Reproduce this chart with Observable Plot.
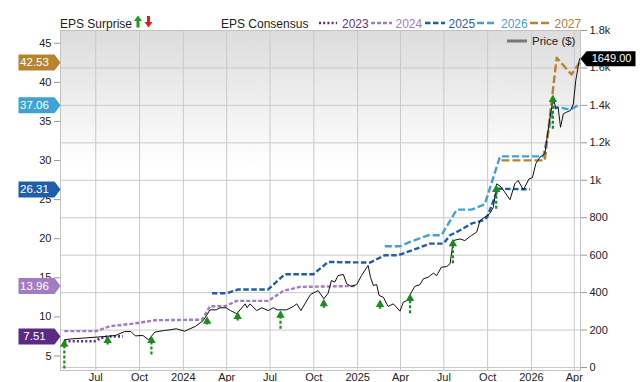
<!DOCTYPE html>
<html><head><meta charset="utf-8">
<script src="https://cdn.jsdelivr.net/npm/d3@7"></script>
<script src="https://cdn.jsdelivr.net/npm/@observablehq/plot@0.6"></script>
<style>
body{margin:0;background:#fff;font-family:"Liberation Sans",Arial,sans-serif;}
#chart{width:640px;height:382px;}
</style></head><body><div id="chart"></div>
<script>
// ---- data ----
const pricePoints = [
["2023-04-26",148],["2023-05-08",152],["2023-06-09",158],["2023-07-23",166],["2023-08-11",171],["2023-08-31",192],
["2023-09-13",192],["2023-09-22",169],["2023-10-08",171],["2023-10-20",148],["2023-11-02",189],["2023-11-23",198],
["2023-12-04",201],["2023-12-17",207],["2024-01-04",194],["2024-01-15",207],["2024-01-26",219],["2024-02-12",251],
["2024-02-26",308],["2024-03-10",308],["2024-03-18",319],["2024-03-31",319],["2024-04-09",304],["2024-04-22",287],
["2024-05-10",340],["2024-05-14",319],["2024-05-20",340],["2024-06-03",304],["2024-06-14",319],["2024-06-27",304],
["2024-07-08",319],["2024-07-16",308],["2024-08-05",308],["2024-08-19",326],["2024-08-26",340],["2024-09-04",304],
["2024-09-12",340],["2024-09-24",390],["2024-10-10",411],["2024-10-22",367],["2024-10-31",397],["2024-11-07",465],
["2024-11-14",456],["2024-11-21",491],["2024-12-02",497],["2024-12-09",447],["2024-12-19",433],["2024-12-30",443],
["2025-01-09",491],["2025-01-23",545],["2025-01-28",482],["2025-02-03",438],["2025-02-10",443],["2025-02-15",385],
["2025-02-24",375],["2025-03-06",326],["2025-03-17",340],["2025-03-31",301],["2025-04-07",349],["2025-04-15",358],
["2025-04-24",402],["2025-05-01",433],["2025-05-12",443],["2025-05-19",474],["2025-05-29",482],["2025-06-09",504],
["2025-06-16",491],["2025-06-26",536],["2025-07-07",539],["2025-07-14",554],["2025-07-21",678],["2025-08-04",687],
["2025-08-14",678],["2025-08-28",705],["2025-09-08",723],["2025-09-15",785],["2025-09-25",803],["2025-10-06",824],
["2025-10-13",856],["2025-10-20",981],["2025-10-30",963],["2025-11-06",936],["2025-11-17",896],["2025-11-27",981],
["2025-12-04",999],["2025-12-15",949],["2025-12-27",1008],["2026-01-03",1013],["2026-01-10",1088],["2026-01-19",1123],
["2026-01-29",1141],["2026-02-09",1337],["2026-02-16",1444],["2026-02-21",1382],["2026-02-26",1390],["2026-03-03",1283],
["2026-03-09",1355],["2026-03-16",1364],["2026-03-24",1373],["2026-03-30",1408],["2026-04-04",1533],["2026-04-12",1649]
];
const fy2023 = [["2023-04-26",6.9],["2023-06-29",6.9],["2023-07-10",7.25],["2023-07-27",7.51],["2023-08-27",7.51]];
const fy2024 = [["2023-04-26",8.18],["2023-07-02",8.18],["2023-07-31",8.82],["2023-09-21",9.16],["2023-11-02",9.58],
  ["2024-02-09",9.65],["2024-02-26",11.37],["2024-03-29",11.37],["2024-04-22",12.05],["2024-06-27",12.05],
  ["2024-07-29",13.33],["2024-09-02",13.84],["2024-12-30",13.96]];
const fy2025 = [["2024-03-01",13.02],["2024-04-01",13.02],["2024-04-25",13.51],["2024-06-27",13.51],["2024-08-01",15.46],
  ["2024-09-30",15.46],["2024-10-31",17.03],["2025-01-27",16.95],["2025-02-27",17.89],["2025-03-27",17.89],
  ["2025-05-05",18.74],["2025-06-02",19.38],["2025-06-30",19.38],["2025-07-14",20.44],["2025-08-04",21.08],
  ["2025-08-28",21.94],["2025-09-22",22.36],["2025-09-30",22.78],["2025-10-23",26.4],["2025-12-29",26.31]];
const fy2026 = [["2025-02-27",19.04],["2025-03-31",19.04],["2025-04-21",19.59],["2025-05-29",20.44],["2025-06-26",20.44],
  ["2025-07-28",23.72],["2025-08-28",23.72],["2025-09-25",24.4],["2025-10-27",30.53],["2026-01-26",30.53],
  ["2026-02-16",36.83],["2026-03-05",36.75],["2026-03-23",36.5],["2026-04-09",37.06]];
const fy2027 = [["2025-10-30",30.02],["2026-01-29",30.02],["2026-02-23",43.14],["2026-03-26",41.0],["2026-04-12",42.53]];
// EPS surprise arrows: [date, from (price level), to (price level)]
const surpriseArrows = [
["2023-04-26",-5,146],["2023-07-26",123,166],["2023-10-26",69,166],["2024-02-20",230,269],
["2024-04-24",251,294],["2024-07-23",207,301],["2024-10-22",319,362],["2025-02-17",314,358],
["2025-04-21",290,390],["2025-07-20",557,682],["2025-10-19",848,972],["2026-02-15",1275,1453]];
const seriesNames = ["2023","2024","2025","2026","2027"];
const seriesColors = ["#5b2a84","#a27cc0","#1f5ead","#3ea2d5","#b8832f"];
const latestEps = [7.51,13.96,26.31,37.06,42.53];
const lastPrice = 1649.00;
const xTickDates = ["2023-07-01","2023-10-01","2024-01-01","2024-04-01","2024-07-01","2024-10-01",
  "2025-01-01","2025-04-01","2025-07-01","2025-10-01","2026-01-01","2026-04-01"];
const xTickLabels = ["Jul","Oct","2024","Apr","Jul","Oct","2025","Apr","Jul","Oct","2026","Apr"];
const priceTicks = [0,200,400,600,800,1000,1200,1400,1600,1800];
const priceTickLabels = ["0","200","400","600","800","1k","1.2k","1.4k","1.6k","1.8k"];
const epsTicks = [5,10,15,20,25,30,35,40,45];
const priceDomain = [-16, 1800];
const epsDomain = [3.15, 46.63];
const xDomain = ["2023-04-18","2026-04-14"];

// ---- helpers ----
const parse = s => new Date(s + "T00:00:00Z");
const toPrice = e => priceDomain[0] + (e - epsDomain[0]) * (priceDomain[1] - priceDomain[0]) / (epsDomain[1] - epsDomain[0]);
const toEps = p => epsDomain[0] + (p - priceDomain[0]) * (epsDomain[1] - epsDomain[0]) / (priceDomain[1] - priceDomain[0]);
const xLabelMap = new Map(xTickDates.map((d, i) => [+parse(d), xTickLabels[i]]));
const priceLabelMap = new Map(priceTicks.map((p, i) => [p, priceTickLabels[i]]));
const seriesData = [fy2023, fy2024, fy2025, fy2026, fy2027];
const dashes = ["2,2.2","4,2","5.5,2.5","7,3","8,3"];
const widths = [2.6,2.4,2.4,2.4,2.4];
const tags = seriesNames.map((n, i) => ({name: n, v: latestEps[i], color: seriesColors[i]}));

const tagShape = {draw(ctx){ctx.moveTo(-21,-8);ctx.lineTo(15,-8);ctx.lineTo(21,0);ctx.lineTo(15,8);ctx.lineTo(-21,8);ctx.closePath();}};
const priceTagShape = {draw(ctx){ctx.moveTo(-27,0);ctx.lineTo(-21,-7.5);ctx.lineTo(28,-7.5);ctx.lineTo(28,7.5);ctx.lineTo(-21,7.5);ctx.closePath();}};
const headShape = {draw(ctx){ctx.moveTo(0,-1);ctx.lineTo(4.2,6.5);ctx.lineTo(-4.2,6.5);ctx.closePath();}};
const green = "#1d8c1d";
const xStart = parse(xDomain[0]), xEnd = parse(xDomain[1]);

const lineMarks = seriesData.map((data, i) => Plot.line(data, {
  x: d => parse(d[0]), y: d => toPrice(d[1]),
  stroke: seriesColors[i], strokeWidth: widths[i], strokeDasharray: dashes[i], strokeLinecap: "butt"
}));

const chart = Plot.plot({
  width: 640, height: 382,
  marginTop: 30, marginBottom: 12, marginLeft: 60, marginRight: 60,
  x: {type: "utc", domain: [xStart, xEnd]},
  y: {domain: priceDomain},
  color: {type: "identity"},
  style: {fontFamily: '"Liberation Sans", Arial, sans-serif', fontSize: "11px", color: "#222", background: "transparent"},
  marks: [
    Plot.frame({fill: "url(#bgGrad)", stroke: null}),
    Plot.gridX({ticks: xTickDates.map(parse), stroke: "#c9c9c9", strokeOpacity: 1}),
    Plot.gridY({ticks: priceTicks, stroke: "#c9c9c9", strokeOpacity: 1}),
    Plot.frame({stroke: "#c2c2c2"}),
    Plot.axisX({ticks: xTickDates.map(parse), tickSize: 0, tickPadding: 3, tickFormat: d => xLabelMap.get(+d), label: null}),
    Plot.axisY({ticks: priceTicks, anchor: "right", tickSize: 6, tickPadding: 3, tickFormat: p => priceLabelMap.get(p), label: null, stroke: "#999"}),
    Plot.axisY({ticks: epsTicks.map(toPrice), anchor: "left", tickSize: 6, tickPadding: 3, tickFormat: p => String(Math.round(toEps(p))), label: null, stroke: "#999"}),
    ...lineMarks,
    Plot.line(pricePoints, {x: d => parse(d[0]), y: d => d[1], stroke: "#111", strokeWidth: 1}),
    Plot.link(surpriseArrows, {x1: d => parse(d[0]), x2: d => parse(d[0]), y1: d => d[1], y2: d => d[2] - 12,
      stroke: green, strokeWidth: 2.2, strokeDasharray: "3,2"}),
    Plot.dot(surpriseArrows, {x: d => parse(d[0]), y: d => d[2], symbol: headShape, fill: green, stroke: "none"}),
    Plot.dot(tags, {x: () => xStart, y: d => toPrice(d.v), dx: -21, symbol: tagShape, fill: d => d.color, stroke: "none"}),
    Plot.text(tags, {x: () => xStart, y: d => toPrice(d.v), dx: -26, text: d => d.v.toFixed(2), fill: "#fff", fontSize: 11.5}),
    Plot.dot([lastPrice], {x: () => xEnd, y: d => d, dx: 27, symbol: priceTagShape, fill: "#000", stroke: "none"}),
    Plot.text([lastPrice], {x: () => xEnd, y: d => d, dx: 31, text: d => d.toFixed(2), fill: "#fff", fontSize: 11})
  ]
});
document.getElementById("chart").appendChild(chart);

// ---- background gradient, header legend and price legend ----
const svg = d3.select(chart);
const grad = svg.insert("defs", ":first-child").append("linearGradient")
  .attr("id", "bgGrad").attr("x1", 0).attr("y1", 0).attr("x2", 0).attr("y2", 1);
grad.append("stop").attr("offset", "0").attr("stop-color", "#dcdcdc");
grad.append("stop").attr("offset", "0.4").attr("stop-color", "#ffffff");

const hdr = svg.append("g").attr("font-family", '"Liberation Sans", Arial, sans-serif')
  .attr("font-size", 12).attr("text-anchor", "start");
hdr.append("text").attr("x", 60).attr("y", 27.5).attr("fill", "#222").text("EPS Surprise");
hdr.append("path").attr("d", "M136.5,27.5V21H134L138,15.5L142,21H139.5V27.5Z").attr("fill", "#1d9a1d");
hdr.append("path").attr("d", "M147,16V22H144.5L148.5,27.5L152.5,22H150V16Z").attr("fill", "#e01b1b");
hdr.append("text").attr("x", 221).attr("y", 27.5).attr("fill", "#222").text("EPS Consensus");
const legX = [[319,337,342],[371,392,395.5],[425,445,448.5],[477,496,501],[530,552,554.5]];
const legTextColors = ["#5e3589","#9f7cbd","#2b5fa8","#4f9ccb","#a8803d"];
seriesNames.forEach((n, i) => {
  hdr.append("line").attr("x1", legX[i][0]).attr("x2", legX[i][1]).attr("y1", 23).attr("y2", 23)
    .attr("stroke", seriesColors[i]).attr("stroke-width", 2.5).attr("stroke-dasharray", dashes[i]);
  hdr.append("text").attr("x", legX[i][2]).attr("y", 27.5).attr("fill", legTextColors[i]).text(n);
});
hdr.append("line").attr("x1", 507).attr("x2", 527).attr("y1", 41).attr("y2", 41).attr("stroke", "#777").attr("stroke-width", 3);
hdr.append("text").attr("x", 532).attr("y", 45).attr("font-size", 11.5).attr("fill", "#222").text("Price ($)");
</script></body></html>
